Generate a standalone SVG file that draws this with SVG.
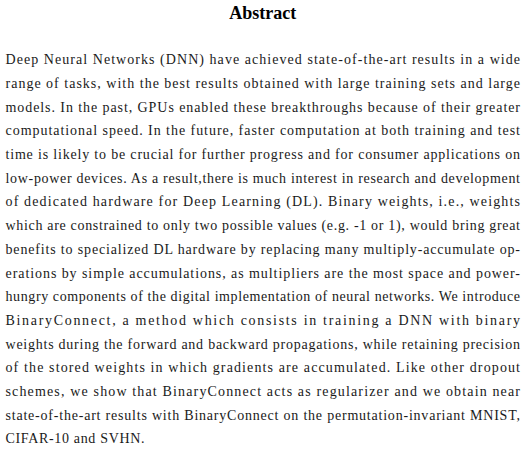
<svg xmlns="http://www.w3.org/2000/svg" width="524" height="449" viewBox="0 0 524 449">
<style>
.t{font-family:"Liberation Serif","Times New Roman",serif;font-weight:bold;font-size:18px;fill:#000}
.b{font-family:"Liberation Serif","Times New Roman",serif;font-size:14px;fill:#1a1a1a}
</style>
<rect width="524" height="449" fill="#fff"/>
<text class="t" x="262.7" y="18.5" text-anchor="middle">Abstract</text>
<g id="body">
<text class="b" x="5.5" y="64.2" textLength="514.5" lengthAdjust="spacing">Deep Neural Networks (DNN) have achieved state-of-the-art results in a wide</text>
<text class="b" x="5.5" y="87.9" textLength="514.5" lengthAdjust="spacing">range of tasks, with the best results obtained with large training sets and large</text>
<text class="b" x="5.5" y="111.6" textLength="514.5" lengthAdjust="spacing">models. In the past, GPUs enabled these breakthroughs because of their greater</text>
<text class="b" x="5.5" y="135.3" textLength="514.5" lengthAdjust="spacing">computational speed. In the future, faster computation at both training and test</text>
<text class="b" x="5.5" y="159.0" textLength="514.5" lengthAdjust="spacing">time is likely to be crucial for further progress and for consumer applications on</text>
<text class="b" x="5.5" y="182.7" textLength="514.5" lengthAdjust="spacing">low-power devices. As a result,there is much interest in research and development</text>
<text class="b" x="5.5" y="206.4" textLength="514.5" lengthAdjust="spacing">of dedicated hardware for Deep Learning (DL). Binary weights, i.e., weights</text>
<text class="b" x="5.5" y="230.1" textLength="514.5" lengthAdjust="spacing">which are constrained to only two possible values (e.g. -1 or 1), would bring great</text>
<text class="b" x="5.5" y="253.8" textLength="514.5" lengthAdjust="spacing">benefits to specialized DL hardware by replacing many multiply-accumulate op-</text>
<text class="b" x="5.5" y="277.5" textLength="514.5" lengthAdjust="spacing">erations by simple accumulations, as multipliers are the most space and power-</text>
<text class="b" x="5.5" y="301.2" textLength="514.5" lengthAdjust="spacing">hungry components of the digital implementation of neural networks. We introduce</text>
<text class="b" x="5.5" y="324.9" textLength="514.5" lengthAdjust="spacing">BinaryConnect, a method which consists in training a DNN with binary</text>
<text class="b" x="5.5" y="348.6" textLength="514.5" lengthAdjust="spacing">weights during the forward and backward propagations, while retaining precision</text>
<text class="b" x="5.5" y="372.3" textLength="514.5" lengthAdjust="spacing">of the stored weights in which gradients are accumulated. Like other dropout</text>
<text class="b" x="5.5" y="396.0" textLength="514.5" lengthAdjust="spacing">schemes, we show that BinaryConnect acts as regularizer and we obtain near</text>
<text class="b" x="5.5" y="419.7" textLength="514.5" lengthAdjust="spacing">state-of-the-art results with BinaryConnect on the permutation-invariant MNIST,</text>
<text class="b" x="5.5" y="443.4" textLength="139" lengthAdjust="spacing">CIFAR-10 and SVHN.</text>
</g>
</svg>
